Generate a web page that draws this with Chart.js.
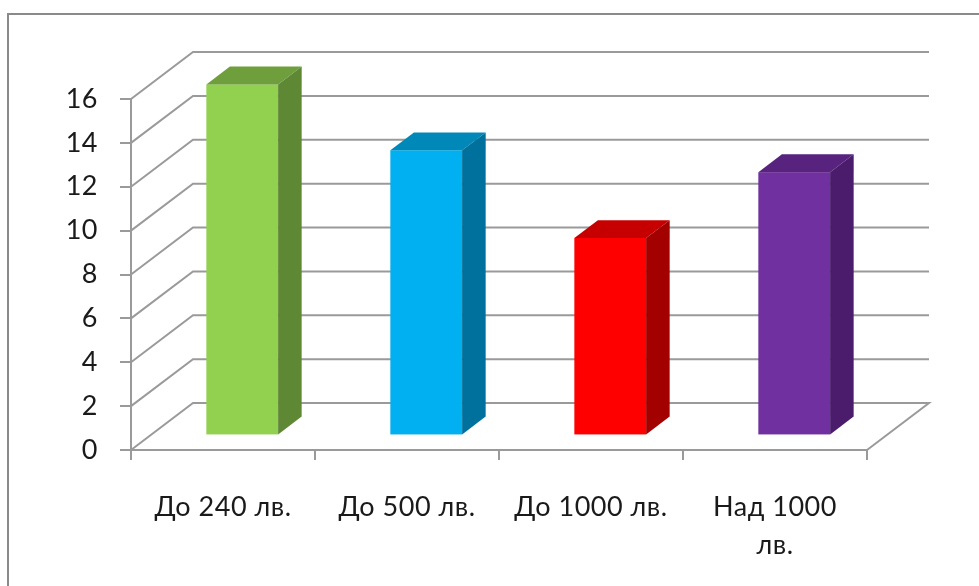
<!DOCTYPE html>
<html>
<head>
<meta charset="utf-8">
<script src="https://cdn.jsdelivr.net/npm/chart.js@4.4.1/dist/chart.umd.min.js"></script>
<style>
  html, body { margin: 0; padding: 0; background: #fff; }
  #wrap { width: 979px; height: 586px; position: relative; }
</style>
</head>
<body>
<div id="wrap"><canvas id="chart" width="979" height="586"></canvas></div>
<script>
// Income brackets and how many answers fell into each
const categories = ['До 240 лв.', 'До 500 лв.', 'До 1000 лв.', 'Над 1000 лв.'];
const counts = [16, 13, 9, 12];
const yTicks = [0, 2, 4, 6, 8, 10, 12, 14, 16];

// front / top / side shades for each column
const frontColors = ['#92d050', '#00b0f0', '#ff0000', '#7030a0'];
const topColors = ['#6f9f3d', '#0088b9', '#c60000', '#57237e'];
const sideColors = ['#5f8834', '#00709c', '#a30000', '#4a1c6b'];

// 3D depth of the plot box and where the columns sit inside it
const DEPTH_X = 62;
const DEPTH_Y = 47;
const BAR_OFFSET = 0.31;
const BAR_DEPTH = 0.38;
const LINE = '#9a9a9a';

const framePlugin = {
  id: 'frame',
  beforeDraw(chart) {
    const ctx = chart.ctx;
    ctx.letterSpacing = '0.5px';
    ctx.save();
    ctx.strokeStyle = '#8a8a8a';
    ctx.lineWidth = 2;
    ctx.beginPath();
    ctx.moveTo(8, 600);
    ctx.lineTo(8, 14);
    ctx.lineTo(990, 14);
    ctx.stroke();
    ctx.restore();
  }
};

// back wall, left wall and floor
const wallsPlugin = {
  id: 'walls',
  beforeDatasetsDraw(chart) {
    const { ctx, chartArea, scales: { y } } = chart;
    const left = chartArea.left, right = chartArea.right;
    ctx.save();
    ctx.strokeStyle = LINE;
    ctx.lineWidth = 2;
    yTicks.forEach(v => {
      const py = y.getPixelForValue(v);
      ctx.beginPath();
      ctx.moveTo(left, py);
      ctx.lineTo(left + DEPTH_X, py - DEPTH_Y);
      ctx.lineTo(right + DEPTH_X, py - DEPTH_Y);
      if (v === 0) ctx.lineTo(right, py);
      ctx.stroke();
    });
    ctx.restore();
  }
};

// columns as boxes, placed from the bar elements
const boxesPlugin = {
  id: 'boxes',
  afterDatasetsDraw(chart) {
    const ctx = chart.ctx;
    const meta = chart.getDatasetMeta(0);
    const ox = BAR_OFFSET * DEPTH_X, oy = BAR_OFFSET * DEPTH_Y;
    const dx = BAR_DEPTH * DEPTH_X, dy = BAR_DEPTH * DEPTH_Y;
    ctx.save();
    meta.data.forEach((bar, i) => {
      const p = bar.getProps(['x', 'y', 'base', 'width'], true);
      const l = p.x - p.width / 2 + ox;
      const r = p.x + p.width / 2 + ox;
      const t = p.y - oy;
      const b = p.base - oy;

      ctx.fillStyle = frontColors[i];
      ctx.fillRect(l, t, r - l, b - t);

      ctx.fillStyle = topColors[i];
      ctx.beginPath();
      ctx.moveTo(l, t);
      ctx.lineTo(l + dx, t - dy);
      ctx.lineTo(r + dx, t - dy);
      ctx.lineTo(r, t);
      ctx.closePath();
      ctx.fill();

      ctx.fillStyle = sideColors[i];
      ctx.beginPath();
      ctx.moveTo(r, t);
      ctx.lineTo(r + dx, t - dy);
      ctx.lineTo(r + dx, b - dy);
      ctx.lineTo(r, b);
      ctx.closePath();
      ctx.fill();
    });
    ctx.restore();
  }
};

const font = { family: 'Lato, "Open Sans", sans-serif', size: 27 };

new Chart(document.getElementById('chart'), {
  type: 'bar',
  data: {
    labels: categories,
    datasets: [{
      data: counts,
      backgroundColor: 'rgba(0,0,0,0)',
      borderWidth: 0,
      categoryPercentage: 1,
      barPercentage: 0.39
    }]
  },
  options: {
    responsive: false,
    animation: false,
    events: [],
    layout: { padding: { left: 0, top: 99, right: 112, bottom: 0 } },
    plugins: {
      legend: { display: false },
      tooltip: { enabled: false }
    },
    scales: {
      x: {
        afterFit: s => { s.height = 136; },
        border: { display: true, color: LINE, width: 2 },
        grid: { drawOnChartArea: false, drawTicks: true, tickLength: 10, color: LINE, lineWidth: 2, offset: true },
        ticks: {
          color: '#1a1a1a',
          font: { ...font, lineHeight: 1.38 },
          padding: 29,
          maxRotation: 0,
          autoSkip: false,
          callback(value) {
            const s = this.getLabelForValue(value);
            if (s.length > 11) {
              const k = s.lastIndexOf(' ');
              return [s.slice(0, k), s.slice(k + 1)];
            }
            return s;
          }
        }
      },
      y: {
        min: 0,
        max: 16,
        afterFit: s => { s.width = 131; },
        border: { display: true, color: LINE, width: 2 },
        grid: { drawOnChartArea: false, drawTicks: true, tickLength: 11, color: LINE, lineWidth: 2 },
        ticks: {
          stepSize: 2,
          color: '#1a1a1a',
          font: font,
          padding: 22
        }
      }
    }
  },
  plugins: [framePlugin, wallsPlugin, boxesPlugin]
});
</script>
</body>
</html>
